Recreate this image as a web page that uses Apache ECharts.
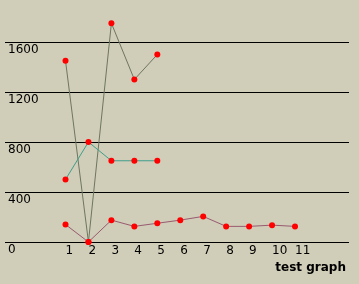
<!DOCTYPE html>
<html><head><meta charset="utf-8">
<script src="https://cdn.jsdelivr.net/npm/echarts@6/dist/echarts.min.js"></script>
<style>html,body{margin:0;padding:0;background:#d0cdb8;}#c{width:359px;height:284px;}</style>
</head><body><div id="c"></div>
<script>
const categories = [1,2,3,4,5,6,7,8,9,10,11];
const seriesA = [1450, 0, 1750, 1300, 1500];
const seriesB = [500, 800, 650, 650, 650];
const seriesC = [140, 0, 175, 125, 150, 175, 205, 125, 125, 135, 125];
const yTicks = [0, 400, 800, 1200, 1600];
const title = 'test graph';

function pts(arr){ return arr.map((v,i)=>[categories[i], v]); }
const chart = echarts.init(document.getElementById('c'));
const pxPer = 22.95;
const sym = {symbol:'circle', symbolSize:6, itemStyle:{color:'#ff0000'}, clip:false};
chart.setOption({
  backgroundColor:'#d0cdb8',
  animation:false,
  title:{text:title, right:8, top:257, textStyle:{fontFamily:'DejaVu Sans', fontSize:12, fontWeight:'bold', color:'#000'}},
  grid:{left:5, right:10, top:42, bottom:42},
  xAxis:{type:'value', min:1-60.5/pxPer, max:11+54/pxPer,
    axisLine:{show:false}, axisTick:{show:false}, splitLine:{show:false},
    axisLabel:{customValues:categories, align:'left', color:'#000', fontFamily:'DejaVu Sans', fontSize:12, margin:3}},
  yAxis:{type:'value', min:yTicks[0], max:yTicks[yTicks.length-1], interval:400,
    axisLine:{show:false}, axisTick:{show:false},
    splitLine:{lineStyle:{color:'#000', width:1}},
    axisLabel:{inside:true, formatter:v=>String(v), color:'#000', fontFamily:'DejaVu Sans', fontSize:12, verticalAlign:'top', margin:3, padding:[2,0,0,0]}},
  series:[
    Object.assign({type:'line', data:pts(seriesA), lineStyle:{color:'#6e7660', width:1}}, sym),
    Object.assign({type:'line', data:pts(seriesB), lineStyle:{color:'#3f9f8c', width:1}}, sym),
    Object.assign({type:'line', data:pts(seriesC), lineStyle:{color:'#995a70', width:1}}, sym)
  ]
});
</script></body></html>
